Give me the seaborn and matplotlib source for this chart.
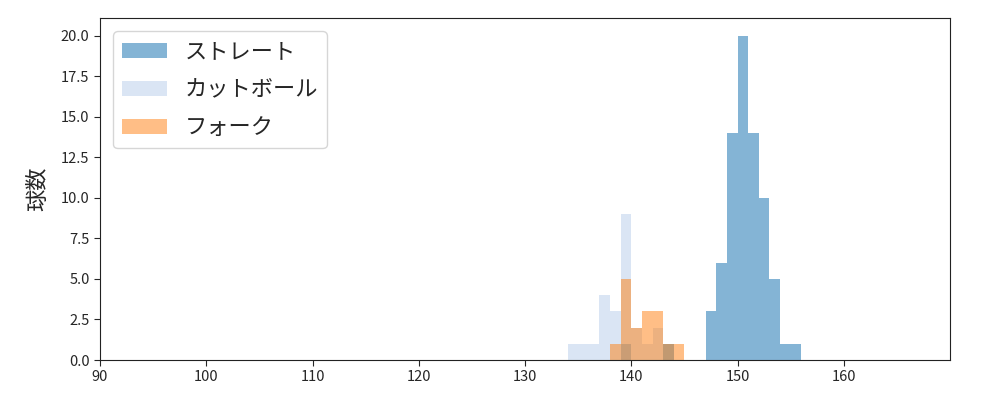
import numpy as np
import pandas as pd
import matplotlib
matplotlib.use("Agg")
import matplotlib.pyplot as plt
import seaborn as sns

sns.set_style("white")
plt.rcParams['font.family'] = ['Noto Sans CJK JP', 'DejaVu Sans']

# Bin left edges (km/h) and counts per 1 km/h bin
straight_bins = [139, 143, 147, 148, 149, 150, 151, 152, 153, 154, 155]
straight_counts = [1, 1, 3, 6, 14, 20, 14, 10, 5, 1, 1]

cutball_bins = [134, 135, 136, 137, 138, 139, 140, 141, 142]
cutball_counts = [1, 1, 1, 4, 3, 9, 2, 1, 2]

fork_bins = [138, 139, 140, 141, 142, 143, 144]
fork_counts = [1, 5, 2, 3, 3, 1, 1]

labels = ["ストレート", "カットボール", "フォーク"]
colors = ["#1f77b4", "#aec7e8", "#ff7f0e"]
alphas = [0.55, 0.45, 0.5]

series = [
    (straight_bins, straight_counts),
    (cutball_bins, cutball_counts),
    (fork_bins, fork_counts),
]

fig, ax = plt.subplots(figsize=(10, 4), dpi=100)
fig.subplots_adjust(left=0.1, right=0.95, top=0.955, bottom=0.1)

for (bins, counts), lab, col, a in zip(series, labels, colors, alphas):
    df = pd.DataFrame({"speed": np.array(bins) + 0.5, "n": counts})
    lo = min(bins)
    hi = max(bins) + 1
    sns.histplot(data=df, x="speed", weights="n", binwidth=1, binrange=(lo, hi),
                 color=col, alpha=a, linewidth=0, ax=ax, label=lab)

ax.set_xlim(90, 170)
ax.set_ylim(0, 21.1)
ax.set_xticks(np.arange(90, 170, 10))
ax.set_yticks(np.arange(0, 20.01, 2.5))
ax.set_yticklabels([f"{v:.1f}" for v in np.arange(0, 20.01, 2.5)])
ax.set_xlabel("")
ax.set_ylabel("球数", fontsize=16, labelpad=8)
ax.tick_params(axis="both", labelsize=10.5, length=4, left=True, bottom=True)
for s in ax.spines.values():
    s.set_visible(True)
    s.set_color("#222222")

ax.legend(loc="upper left", fontsize=16, frameon=True, labelspacing=0.68,
          borderaxespad=0.6)
fig.savefig("out.png")
